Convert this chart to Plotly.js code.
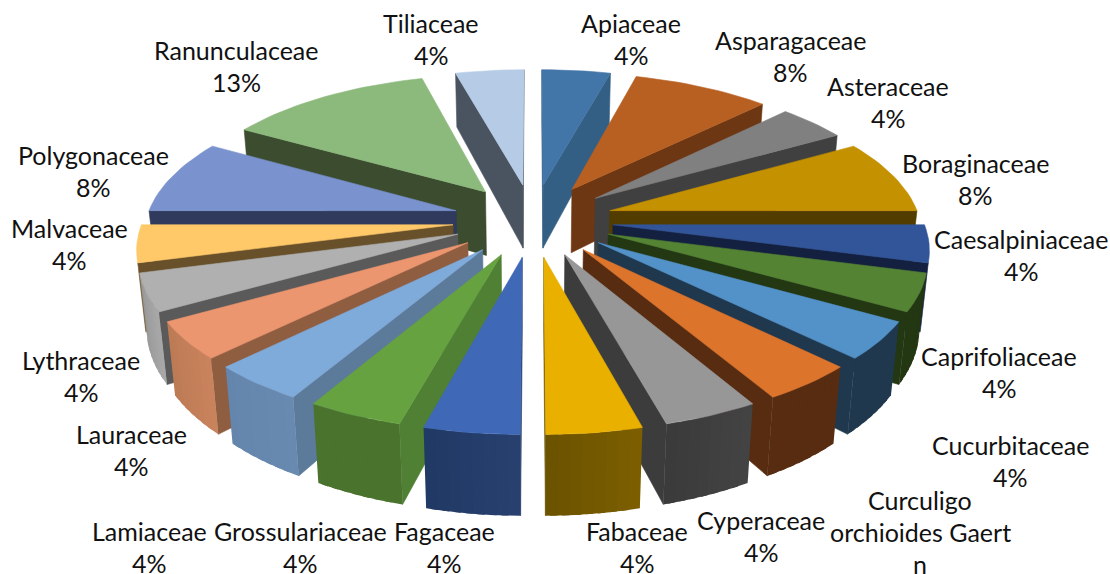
<!DOCTYPE html>
<html><head><meta charset="utf-8">
<script src="https://cdn.plot.ly/plotly-3.0.1.min.js"></script>
<style>html,body{margin:0;padding:0;background:#fff;overflow:hidden}#c{width:1110px;height:574px}</style>
</head><body><div id="c"></div>
<script>
const categories=["Apiaceae","Asparagaceae","Asteraceae","Boraginaceae","Caesalpiniaceae","Caprifoliaceae","Cucurbitaceae","Curculigo orchioides Gaertn","Cyperaceae","Fabaceae","Fagaceae","Grossulariaceae","Lamiaceae","Lauraceae","Lythraceae","Malvaceae","Polygonaceae","Ranunculaceae","Tiliaceae"];
const values=[1,2,1,2,1,1,1,1,1,1,1,1,1,1,1,1,2,3,1];
const percents=["4%","8%","4%","8%","4%","4%","4%","4%","4%","4%","4%","4%","4%","4%","4%","4%","8%","13%","4%"];

const topColors=["#4376A8","#B86022","#808080","#C49100","#32559A","#548334","#5391C9","#DC742C","#979797","#EAB000","#3F68B7","#66A240","#7FABDB","#EC9670","#B0B0B0","#FFC868","#7A92CE","#8CB97C","#B6CBE6"];
const sideColors=["#345F85","#6E3713","#404040","#533C00","#14203F","#233713","#20384E","#572C11","#3C3C3C","#6B5200","#27406F","#4F8033","#5C7A9A","#8F5D40","#5A5A5A","#67502A","#2F3A5C","#3B4C2F","#4A5460"];
const rimStart=["#345F85","#6E3713","#404040","#533C00","#14203F","#233713","#20384E","#572C11","#444444","#7D5F00","#27406F","#4A732D","#6889B0","#C9825C","#A8A8A8","#C09850","#2F3A5C","#3B4C2F","#4A5460"];
const rimEnd=["#345F85","#6E3713","#404040","#533C00","#14203F","#233713","#20384E","#572C11","#3A3A3A","#6B5200","#213864","#4A732D","#6485AC","#BC7A55","#969696","#C09850","#2F3A5C","#3B4C2F","#4A5460"];

// camera of the drawn pie
const cx=533,cy=220,A=140.6,B=310,H=67,q=0.07,k=0.14,m=0.02,pull=0.259,steps=24;
const project=(X,Y,z)=>{const d=1+k*Y+m*z;return [cx+B*X/d,cy+(H*(1-q*Y)*z-A*Y)/d];};

const labelLayout=[[631,23],[790,40],[888,86],[975,163],[1021,239],[999,356],[1010,445],[920,500],[761,520],[637,531],[444,531],[300,531],[149,531],[131,434],[81,360],[69,228],[93,155],[236,50],[431,23]];
const labelLines=categories.map((c,i)=>i===7?["Curculigo","orchioides Gaert","n"]:[c,percents[i]]);

const total=values.reduce((a,b)=>a+b,0);
const rgb=h=>[1,3,5].map(i=>parseInt(h.substr(i,2),16));
const mix=(a,b,t)=>{const p=rgb(a),r=rgb(b);return `rgb(${p.map((v,i)=>Math.round(v+(r[i]-v)*t)).join(",")})`;};
const poly=(pts,color,w)=>({type:"scatter",mode:"lines",x:pts.map(p=>p[0]).concat(pts[0][0]),y:pts.map(p=>p[1]).concat(pts[0][1]),fill:"toself",fillcolor:color,line:{color:color,width:w===undefined?0.6:w},hoverinfo:"skip",showlegend:false});
const area=p=>{let s=0;for(let i=0;i<p.length;i++){const a=p[i],b=p[(i+1)%p.length];s+=a[0]*b[1]-b[0]*a[1];}return s;};

let run=0;
const slices=values.map((v,i)=>{const a0=run/total*2*Math.PI;run+=v;const a1=run/total*2*Math.PI;return {i,a0,a1,mid:(a0+a1)/2};});
slices.sort((p,r)=>Math.cos(r.mid)-Math.cos(p.mid));
const data=[];
slices.forEach(s=>{
  const ox=pull*Math.sin(s.mid),oy=pull*Math.cos(s.mid);
  const P=(t,z)=>project(ox+Math.sin(t),oy+Math.cos(t),z);
  const Q=z=>project(ox,oy,z);
  const n=Math.max(8,Math.round((s.a1-s.a0)/(2*Math.PI)*steps*8));
  const ang=j=>s.a0+(s.a1-s.a0)*j/n;
  // radial walls
  [[Q(0),P(s.a0,0),P(s.a0,1),Q(1)],[P(s.a1,0),Q(0),Q(1),P(s.a1,1)]].forEach(f=>{
    if(area(f)<0) data.push(poly(f,sideColors[s.i]));
  });
  // rim: each strip reaches under the next one, so no seams show between them
  for(let j=0;j<n;j++){
    const f=[P(ang(j),0),P(ang(j+1),0),P(ang(j+1),1),P(ang(j),1)];
    if(area(f)>=0) continue;
    const end=Math.min(j+1.6,n);
    const w=[P(ang(j),0),P(ang(end),0),P(ang(end),1),P(ang(j),1)];
    data.push(poly(w,mix(rimStart[s.i],rimEnd[s.i],(j+0.5)/n),0));
  }
  // top
  const t=[Q(0)];for(let j=0;j<=n;j++)t.push(P(ang(j),0));
  data.push(poly(t,topColors[s.i]));
});

const annotations=[];
labelLines.forEach((ls,i)=>ls.forEach((txt,j)=>{annotations.push({x:labelLayout[i][0],y:labelLayout[i][1]+j*32,text:txt,showarrow:false,xref:"x",yref:"y",xanchor:"center",yanchor:"middle",font:{family:"Lato, Carlito, sans-serif",size:25,color:"#111"}});}));

Plotly.newPlot("c",data,{width:1110,height:574,margin:{l:0,r:0,t:0,b:0},paper_bgcolor:"#fff",plot_bgcolor:"#fff",
  xaxis:{range:[0,1110],visible:false,fixedrange:true},yaxis:{range:[574,0],visible:false,fixedrange:true},annotations,showlegend:false,hovermode:false},{displayModeBar:false,staticPlot:true});
</script></body></html>
